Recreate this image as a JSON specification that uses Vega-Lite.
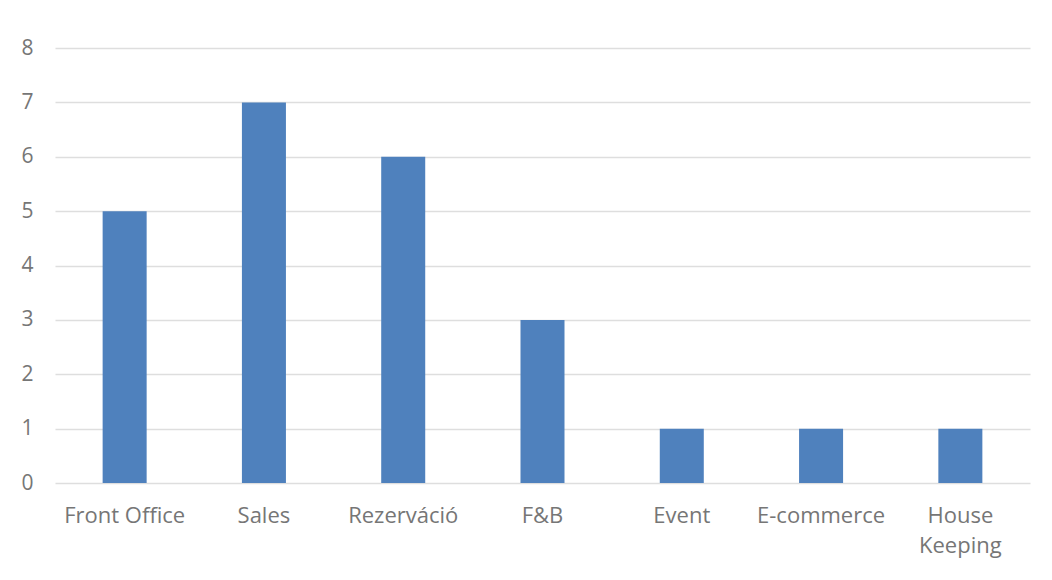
{
  "$schema": "https://vega.github.io/schema/vega-lite/v6.json",
  "autosize": "none",
  "width": 975,
  "height": 435,
  "padding": {"left": 55, "top": 48, "right": 22, "bottom": 97},
  "background": "white",
  "data": {"values": [
    {"dept": "Front Office", "count": 5},
    {"dept": "Sales", "count": 7},
    {"dept": "Rezerváció", "count": 6},
    {"dept": "F&B", "count": 3},
    {"dept": "Event", "count": 1},
    {"dept": "E-commerce", "count": 1},
    {"dept": "House Keeping", "count": 1}
  ]},
  "mark": {"type": "bar", "color": "#4F81BD"},
  "encoding": {
    "x": {
      "field": "dept", "type": "nominal", "sort": null, "title": null,
      "scale": {"paddingInner": 0.684, "paddingOuter": 0.342},
      "axis": {
        "labelAngle": 0, "domain": false, "ticks": false, "labelPadding": 22,
        "labelFont": "Open Sans", "labelFontSize": 22, "labelColor": "#767676",
        "labelLineHeight": 30, "labelOverlap": false,
        "labelExpr": "datum.label == 'House Keeping' ? ['House', 'Keeping'] : datum.label"
      }
    },
    "y": {
      "field": "count", "type": "quantitative", "title": null,
      "scale": {"domain": [0, 8]},
      "axis": {
        "values": [0,1,2,3,4,5,6,7,8], "labelOverlap": false,
        "domain": false, "ticks": false, "labelPadding": 22,
        "labelFont": "Open Sans", "labelFontSize": 21, "labelColor": "#767676",
        "gridColor": "#dedede", "gridWidth": 1.5
      }
    }
  },
  "config": {"view": {"stroke": null}}
}
